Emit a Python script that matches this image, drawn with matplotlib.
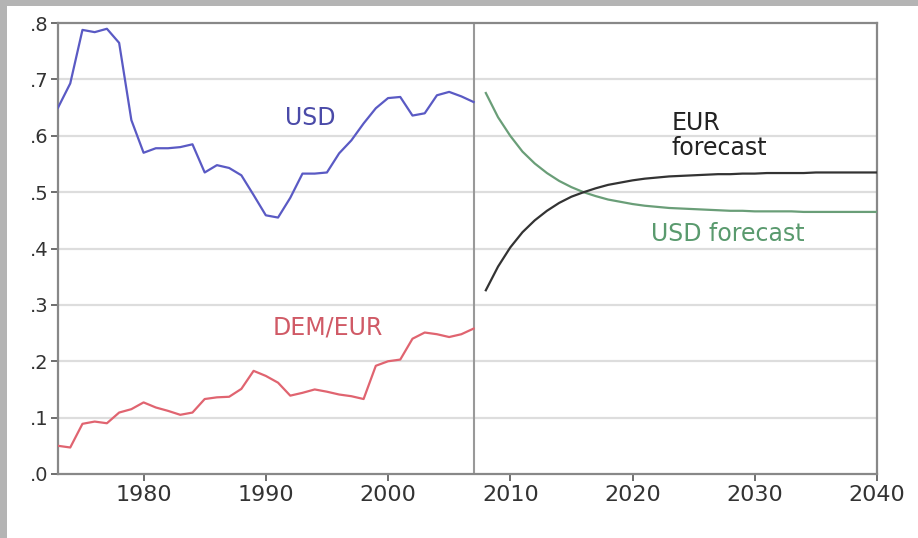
import matplotlib
matplotlib.use('Agg')
import matplotlib.pyplot as plt
from matplotlib.patches import Rectangle

# historical shares, 1973-2007
years = list(range(1973, 2008))
usd = [0.650, 0.693, 0.788, 0.784, 0.790, 0.765, 0.628, 0.570, 0.578, 0.578,
       0.580, 0.585, 0.535, 0.548, 0.543, 0.530, 0.495, 0.459, 0.455, 0.490,
       0.533, 0.533, 0.535, 0.569, 0.592, 0.622, 0.649, 0.667, 0.669, 0.636,
       0.640, 0.672, 0.678, 0.670, 0.660]
dem_eur = [0.050, 0.047, 0.089, 0.093, 0.090, 0.109, 0.115, 0.127, 0.118, 0.112,
           0.105, 0.109, 0.133, 0.136, 0.137, 0.151, 0.183, 0.174, 0.162, 0.139,
           0.144, 0.150, 0.146, 0.141, 0.138, 0.133, 0.192, 0.200, 0.203, 0.240,
           0.251, 0.248, 0.243, 0.248, 0.258]

# forecasts, 2008-2040
fc_years = list(range(2008, 2041))
usd_fc = [0.676, 0.633, 0.600, 0.572, 0.551, 0.534, 0.520, 0.509, 0.500, 0.493,
          0.487, 0.483, 0.479, 0.476, 0.474, 0.472, 0.471, 0.470, 0.469, 0.468,
          0.467, 0.467, 0.466, 0.466, 0.466, 0.466, 0.465, 0.465, 0.465, 0.465,
          0.465, 0.465, 0.465]
eur_fc = [0.326, 0.368, 0.402, 0.429, 0.450, 0.467, 0.481, 0.492, 0.500, 0.507,
          0.513, 0.517, 0.521, 0.524, 0.526, 0.528, 0.529, 0.530, 0.531, 0.532,
          0.532, 0.533, 0.533, 0.534, 0.534, 0.534, 0.534, 0.535, 0.535, 0.535,
          0.535, 0.535, 0.535]

yticks = [0.0, 0.1, 0.2, 0.3, 0.4, 0.5, 0.6, 0.7, 0.8]
ylabels = ['.0', '.1', '.2', '.3', '.4', '.5', '.6', '.7', '.8']
xticks = [1980, 1990, 2000, 2010, 2020, 2030, 2040]

plt.rcParams['font.family'] = ['DejaVu Sans']

fig = plt.figure(figsize=(9.18, 5.38), dpi=100)
fig.patch.set_facecolor('white')
ax = fig.add_axes([0.0632, 0.119, 0.8921, 0.838])

# picture frame look (top and left edge shading)
fig.patches.append(Rectangle((0, 0.989), 1, 0.011, transform=fig.transFigure,
                             facecolor='#b4b4b4', edgecolor='none', zorder=0))
fig.patches.append(Rectangle((0, 0), 0.008, 1, transform=fig.transFigure,
                             facecolor='#b4b4b4', edgecolor='none', zorder=0))

for y in yticks[1:-1]:
    ax.axhline(y, color='#dddddd', lw=1.6, zorder=1)
ax.axvline(2007, color='#999999', lw=1.5, zorder=2)

ax.plot(years, usd, color='#5a5ac4', lw=1.6, zorder=3)
ax.plot(years, dem_eur, color='#e06470', lw=1.6, zorder=3)
ax.plot(fc_years, usd_fc, color='#6a9e78', lw=1.6, zorder=3)
ax.plot(fc_years, eur_fc, color='#333333', lw=1.6, zorder=3)

ax.text(1993.6, 0.631, 'USD', color='#4a4aa8', fontsize=17, ha='center', va='center')
ax.text(1995.1, 0.26, 'DEM/EUR', color='#d05a66', fontsize=17, ha='center', va='center')
ax.text(2023.2, 0.60, 'EUR\nforecast', color='#222222', fontsize=17, ha='left',
        va='center', linespacing=1.05)
ax.text(2021.5, 0.425, 'USD forecast', color='#5a9a6e', fontsize=17, ha='left', va='center')

ax.set_xlim(1973, 2040)
ax.set_ylim(0, 0.8)
ax.set_yticks(yticks)
ax.set_yticklabels(ylabels)
ax.set_xticks(xticks)
ax.tick_params(axis='both', direction='out', length=5, width=1.2, colors='#555555',
               labelcolor='#333333')
ax.tick_params(axis='y', labelsize=14, pad=2)
ax.tick_params(axis='x', labelsize=16, pad=3)
for s in ax.spines.values():
    s.set_color('#888888')
    s.set_linewidth(1.6)

fig.savefig('out.png', dpi=100, facecolor='white')
